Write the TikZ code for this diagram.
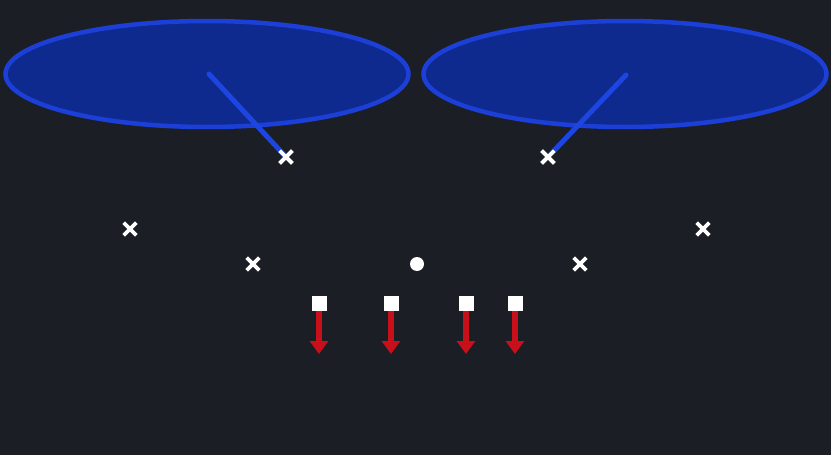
\documentclass[tikz,border=0pt]{standalone}
\usetikzlibrary{arrows.meta,shapes.misc,shapes.geometric}
\definecolor{bg}{HTML}{1B1E25}
\definecolor{ellfill}{HTML}{0E2A8E}
\definecolor{elldraw}{HTML}{1C3FD8}
\definecolor{linkblue}{HTML}{1C45E2}
\definecolor{arrred}{HTML}{C8101A}
\begin{document}
\begin{tikzpicture}[x=1pt,y=-1pt,
  zone/.style={ellipse,draw=elldraw,fill=ellfill,line width=4.5pt,minimum width=403pt,minimum height=106pt,inner sep=0pt},
  player/.style={cross out,draw=white,line width=3.6pt,minimum size=9pt,inner sep=0pt},
  ball/.style={circle,fill=white,minimum size=14pt,inner sep=0pt},
  blocker/.style={rectangle,fill=white,minimum size=15pt,inner sep=0pt},
  link/.style={draw=linkblue,line width=5pt,line cap=round},
  push/.style={draw=arrred,line width=6.5pt,-{Triangle[width=18pt,length=13pt]}}]
\useasboundingbox[fill=bg] (0,0) rectangle (831,455);
\node[zone] (e1) at (207,74) {};
\node[zone] (e2) at (625,74) {};
\coordinate (c1) at (209,74);
\coordinate (c2) at (626,75);
\node[player] (p1) at (286,157) {};
\node[player] (p2) at (548,157) {};
\node[player] (p3) at (130,229) {};
\node[player] (p4) at (703,229) {};
\node[player] (p5) at (253,264) {};
\node[player] (p6) at (580,264) {};
\node[ball] (b) at (417,264) {};
\draw[link] (c1) -- (p1.center);
\draw[link] (c2) -- (p2.center);
\node[player] at (p1) {};
\node[player] at (p2) {};
\foreach \i/\x in {1/319,2/391,3/466,4/515}{
  \node[blocker] (s\i) at (\x,303) {};
  \coordinate (t\i) at (\x,354);
  \draw[push] (s\i.south) -- (t\i);
}
\end{tikzpicture}
\end{document}
